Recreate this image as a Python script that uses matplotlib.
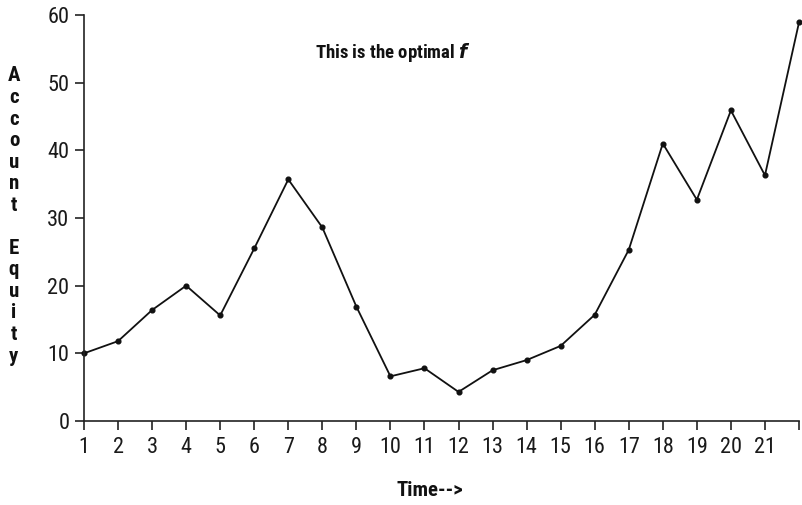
import numpy as np
import matplotlib
matplotlib.use('Agg')
import matplotlib.pyplot as plt

# %% data
periods = np.arange(1, 23)
equity = [10.0, 11.8, 16.4, 20.0, 15.6, 25.5, 35.7, 28.6, 16.9, 6.6, 7.8,
          4.3, 7.5, 9.0, 11.1, 15.7, 25.3, 41.0, 32.7, 45.9, 36.3, 58.9]
xtick_labels = [str(i) for i in range(1, 22)] + ['']
yticks = [0, 10, 20, 30, 40, 50, 60]

fam = ['Liberation Sans Narrow', 'DejaVu Sans Condensed', 'Roboto Condensed',
       'Roboto', 'DejaVu Sans']
plt.rcParams['font.family'] = fam

fig = plt.figure(figsize=(8.03, 5.05), dpi=100)
ax = fig.add_axes([84/803, 84/505, 715/803, 406/505])

ax.plot(periods, equity, '-', color='#111111', lw=1.3,
        marker='o', markersize=3.4, markerfacecolor='#111111',
        markeredgecolor='#111111', clip_on=False)

# =============================================================================
# axes styling
# =============================================================================
ax.set_xlim(1, 22)
ax.set_ylim(0, 60)
ax.set_xticks(periods)
ax.set_xticklabels(xtick_labels)
ax.set_yticks(yticks)
for s in ['top', 'right']:
    ax.spines[s].set_visible(False)
for s in ['left', 'bottom']:
    ax.spines[s].set_linewidth(1.2)
    ax.spines[s].set_color('#222222')
ax.tick_params(which='major', direction='out', length=6.5, width=1.2,
               color='#222222', labelsize=16, labelcolor='#1a1a1a')
ax.tick_params(axis='x', pad=5)
ax.tick_params(axis='y', pad=4)

# =============================================================================
# texts
# =============================================================================
fig.text(393/803, 1 - 52/505, 'This is the optimal $\\boldsymbol{f}$',
         ha='center', va='center', fontsize=13.5, fontweight='bold',
         color='#111111')
fig.text(430/803, 1 - 490/505, 'Time-->', ha='center', va='center',
         fontsize=15, fontweight='bold', color='#111111')
fig.text(14/803, 1 - 216/505, 'A\nc\nc\no\nu\nn\nt\n\nE\nq\nu\ni\nt\ny',
         ha='center', va='center', multialignment='center', fontsize=15,
         fontweight='bold', linespacing=1.17, color='#111111')

plt.savefig('out.png', dpi=100)
